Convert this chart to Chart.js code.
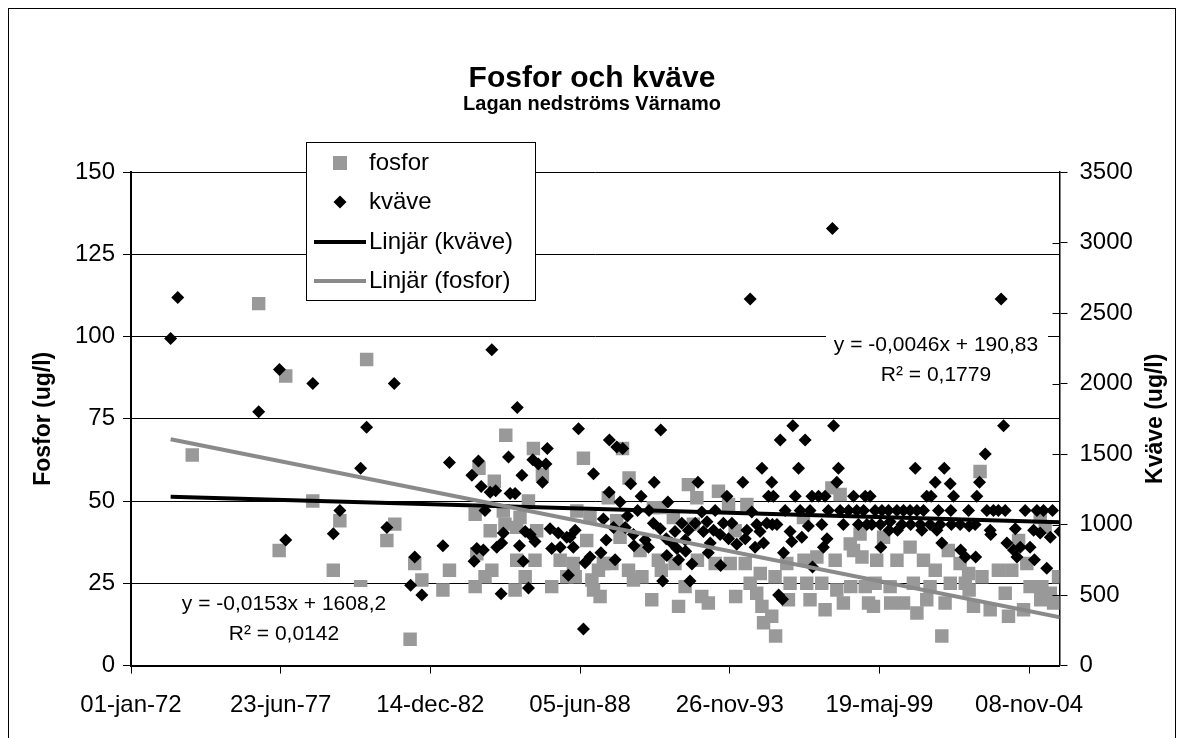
<!DOCTYPE html>
<html lang="sv">
<head>
<meta charset="UTF-8">
<title>Fosfor och kväve</title>
<script src="https://cdn.jsdelivr.net/npm/chart.js"></script>
<style>
  body { margin: 0; background: #fff; }
  #wrap { width: 1184px; height: 738px; position: relative; }
</style>
</head>
<body>
<div id="wrap"><canvas id="chart"></canvas></div>
<script>
// x axis: Excel date serials, a tick every 2000 days from 01-jan-72
var xTickLabels = ['01-jan-72', '23-jun-77', '14-dec-82', '05-jun-88', '26-nov-93', '19-maj-99', '08-nov-04'];
var xStart = 26299;
var xStep = 2000;
var xEnd = 38705;

// fosfor samples: date as decimal year, value in ug/l
var fosforYear = [
  1974.24, 1976.67, 1977.42, 1977.66, 1978.65, 1979.40, 1979.64, 1980.40, 1980.62, 1981.36, 1981.65, 1982.21, 1982.38, 1982.64, 1983.41, 1983.65,
  1984.59, 1984.59, 1984.65, 1984.73, 1984.95, 1985.14, 1985.20, 1985.29, 1985.62, 1985.68, 1985.71, 1986.05, 1986.11, 1986.11, 1986.23, 1986.42, 1986.54, 1986.72, 1986.78, 1986.84, 1987.05, 1987.39, 1987.70, 1987.94,
  1988.18, 1988.25, 1988.31, 1988.55, 1988.67, 1988.79, 1988.86, 1988.92, 1989.10, 1989.16, 1989.28, 1989.46, 1989.59, 1989.77, 1989.89, 1989.98, 1990.20, 1990.22, 1990.38, 1990.62, 1990.69, 1991.05, 1991.11, 1991.29, 1991.36, 1991.40,
  1991.84, 1991.90, 1992.03, 1992.27, 1992.39, 1992.57, 1992.70, 1992.72, 1992.88, 1993.12, 1993.37, 1993.49, 1993.86, 1993.92, 1994.10, 1994.12, 1994.47, 1994.53, 1994.65, 1994.89, 1995.02, 1995.08, 1995.14,
  1995.44, 1995.56, 1995.58, 1995.99, 1996.05, 1996.11, 1996.60, 1996.62, 1996.72, 1996.84, 1997.09, 1997.27, 1997.39, 1997.64, 1997.76, 1997.82, 1997.94, 1998.06, 1998.31, 1998.33, 1998.43, 1998.67, 1998.74, 1998.86, 1998.98,
  1999.16, 1999.22, 1999.28, 1999.53, 1999.77, 1999.79, 2000.02, 2000.26, 2000.50, 2000.62, 2000.75, 2000.99, 2001.11, 2001.23, 2001.42, 2001.66, 2001.78, 2001.90, 2001.97, 2002.33, 2002.52,
  2002.64, 2002.66, 2002.82, 2003.06, 2003.13, 2003.43, 2003.73, 2003.98, 2004.10, 2004.22, 2004.47, 2004.65, 2004.77, 2004.89, 2005.26, 2005.28, 2005.32, 2005.44, 2005.63, 2005.75, 2005.93
];
var fosforValue = [
  64, 110, 35, 88, 50, 29, 44, 24, 93, 38, 43, 8, 31, 26, 23, 29,
  46, 24, 34, 60, 27, 41, 29, 56, 47, 43, 70, 23, 42, 32, 45, 27, 50, 66, 32, 41, 58, 24, 32, 27,
  31, 27, 47, 63, 38, 45, 26, 23, 29, 21, 31, 51, 31, 44, 39, 66, 29, 57, 26, 35, 27, 20, 48, 32, 48, 29,
  45, 31, 18, 24, 55, 43, 51, 32, 21, 19, 31, 53, 49, 31, 41, 21, 31, 49, 25, 22, 28, 18, 13,
  15, 27, 9, 31, 20, 25, 45, 32, 25, 20, 33, 25, 17, 54, 32, 23, 52, 19, 37, 24, 35, 40, 33, 24, 19,
  18, 25, 32, 39, 24, 19, 32, 19, 36, 25, 16, 32, 20, 24, 29, 9, 19, 35, 25, 31, 25,
  28, 23, 18, 59, 27, 17, 29, 22, 15, 29, 38, 17, 31, 24, 45, 20, 24, 42, 22, 19, 27
];

// kväve samples: date as decimal year, value in ug/l
var kvaveYear = [
  1973.45, 1973.71, 1976.67, 1977.43, 1977.66, 1978.65, 1979.40, 1979.64, 1980.40, 1980.62, 1981.36, 1981.63, 1982.23, 1982.38, 1982.64, 1983.41, 1983.65,
  1984.47, 1984.55, 1984.65, 1984.71, 1984.81, 1984.89, 1984.95, 1985.14, 1985.20, 1985.34, 1985.38, 1985.54, 1985.56, 1985.62, 1985.81, 1985.87, 1986.05, 1986.13, 1986.21, 1986.30, 1986.35, 1986.42, 1986.54, 1986.60, 1986.70, 1986.78, 1986.90, 1987.05, 1987.18, 1987.23, 1987.33, 1987.39, 1987.63, 1987.70, 1987.94, 1988.00,
  1988.06, 1988.18, 1988.25, 1988.37, 1988.55, 1988.61, 1988.79, 1988.92, 1989.19, 1989.28, 1989.38, 1989.49, 1989.50, 1989.65, 1989.71, 1989.77, 1989.89, 1989.99, 1990.08, 1990.16, 1990.28, 1990.38, 1990.40, 1990.53, 1990.66, 1990.81, 1990.93, 1990.95, 1991.11, 1991.14, 1991.36, 1991.38, 1991.45, 1991.58, 1991.60, 1991.64,
  1991.78, 1991.90, 1991.97, 1992.03, 1992.15, 1992.27, 1992.29, 1992.39, 1992.45, 1992.52, 1992.64, 1992.74, 1992.88, 1992.94, 1993.07, 1993.12, 1993.19, 1993.31, 1993.37, 1993.55, 1993.57, 1993.67, 1993.80, 1993.86, 1993.98, 1994.16, 1994.38, 1994.47, 1994.53, 1994.65, 1994.71, 1994.83, 1994.89, 1995.01, 1995.08, 1995.14, 1995.26, 1995.32,
  1995.44, 1995.46, 1995.50, 1995.63, 1995.69, 1995.75, 1995.83, 1995.87, 1995.93, 1996.11, 1996.17, 1996.21, 1996.30, 1996.42, 1996.48, 1996.54, 1996.66, 1996.78, 1996.84, 1996.91, 1996.93, 1997.15, 1997.27, 1997.33, 1997.39, 1997.46, 1997.51, 1997.66, 1997.70, 1997.82, 1997.88, 1997.94, 1998.06, 1998.25, 1998.43, 1998.55, 1998.61, 1998.80, 1998.86, 1998.92,
  1999.04, 1999.10, 1999.22, 1999.41, 1999.43, 1999.47, 1999.71, 1999.73, 1999.77, 2000.02, 2000.04, 2000.20, 2000.26, 2000.50, 2000.52, 2000.69, 2000.75, 2000.87, 2000.93, 2000.99, 2001.11, 2001.23, 2001.27, 2001.42, 2001.48, 2001.54, 2001.60, 2001.66, 2001.75, 2001.97, 2001.99, 2002.01, 2002.09, 2002.33, 2002.35, 2002.52, 2002.64,
  2002.66, 2002.88, 2002.90, 2002.94, 2003.04, 2003.25, 2003.31, 2003.43, 2003.45, 2003.55, 2003.73, 2003.83, 2003.92, 2003.98, 2004.04, 2004.28, 2004.35, 2004.41, 2004.53, 2004.71, 2004.89, 2005.02, 2005.05, 2005.14, 2005.26, 2005.38, 2005.50, 2005.63, 2005.71, 2005.99
];
var kvaveValue = [
  2320, 2610, 1800, 2100, 890, 2000, 935, 1100, 1400, 1690, 980, 2000, 570, 770, 500, 850, 1440,
  1350, 740, 830, 1450, 1270, 820, 1100, 1230, 2240, 1240, 840, 510, 870, 940, 1480, 1220, 1220, 1830, 850, 1350, 740, 950, 550, 930, 1460, 880, 1430, 1300, 1430, 1540, 970, 830, 940, 840, 910, 640,
  910, 840, 960, 1680, 260, 730, 770, 1360, 800, 1040, 890, 1230, 1600, 980, 750, 1550, 1160, 1540, 980, 1060, 1290, 930, 850, 1100, 1200, 890, 840, 1100, 1010, 1300, 970, 1670, 600, 900, 780, 1160,
  870, 950, 830, 750, 1010, 890, 810, 960, 600, 720, 1010, 1300, 1090, 950, 1020, 800, 870, 960, 1100, 930, 710, 1010, 1200, 900, 1010, 860, 1300, 900, 960, 2600, 1090, 840, 1000, 950, 1400, 870, 1010, 1200,
  1300, 1000, 1200, 1000, 500, 1600, 470, 800, 1100, 950, 880, 1700, 1200, 1400, 1100, 910, 1600, 990, 1100, 1200, 700, 1200, 1000, 840, 1200, 900, 1100, 3100, 1700, 1300, 1400, 1100, 1000, 1100, 1200, 1100, 1000, 1100, 1200, 1000,
  1200, 1000, 1100, 1000, 840, 1100, 1100, 960, 1020, 1100, 960, 1000, 1100, 1100, 1000, 1400, 1100, 1000, 960, 1100, 1200, 1000, 1200, 1300, 960, 1100, 1000, 870, 1400, 1290, 1100, 1000, 1200, 1000, 820, 770, 1100,
  990, 1000, 770, 1200, 1300, 1500, 1100, 960, 930, 1100, 1100, 2600, 1700, 1100, 870, 820, 970, 770, 840, 1100, 840, 960, 750, 1100, 940, 1100, 690, 910, 1100, 950
];

// linear trendlines as shown in the chart: [slope, intercept], x = date serial
var kvaveTrend = [-0.0153, 1608.2];
var fosforTrend = [-0.00455, 190.83];
var kvaveTrendText = ['y = -0,0153x + 1608,2', 'R² = 0,0142'];
var fosforTrendText = ['y = -0,0046x + 190,83', 'R² = 0,1779'];

var fontFamily = '"Liberation Sans", Arial, Helvetica, sans-serif';
Chart.defaults.font.family = fontFamily;
Chart.defaults.color = '#000';

function toSerial(year) {
    return xStart + (year - 1972) * 365.25;
}

function toPoints(years, values) {
    return years.map(function (yr, i) {
        return { x: toSerial(yr), y: values[i] };
    });
}

var allYears = fosforYear.concat(kvaveYear);
var trendFrom = toSerial(Math.min.apply(null, allYears));
var trendTo = toSerial(Math.max.apply(null, allYears));

function trendPoints(t) {
    return [
        { x: trendFrom, y: t[0] * trendFrom + t[1] },
        { x: trendTo, y: t[0] * trendTo + t[1] }
    ];
}

function drawEquation(ctx, lines, cx, cy, box) {
    ctx.fillStyle = '#fff';
    ctx.fillRect(box[0], box[1], box[2], box[3]);
    ctx.fillStyle = '#000';
    ctx.font = '21px ' + fontFamily;
    ctx.textAlign = 'center';
    ctx.textBaseline = 'middle';
    ctx.fillText(lines[0], cx, cy);
    ctx.fillText(lines[1], cx, cy + 30);
}

// border, axis titles, trendline labels and the legend box
var overlayPlugin = {
    id: 'overlay',
    afterDraw: function (chart) {
        var ctx = chart.ctx;
        var area = chart.chartArea;
        var ds = chart.data.datasets;
        var y2 = chart.scales.y2;
        ctx.save();

        ctx.strokeStyle = '#000';
        ctx.lineWidth = 1;
        ctx.strokeRect(8.5, 8.5, 1167, 760);

        // right axis ticks cross the axis line
        ctx.beginPath();
        y2.ticks.forEach(function (t) {
            var py = Math.round(y2.getPixelForValue(t.value)) + 0.5;
            ctx.moveTo(area.right - 7, py);
            ctx.lineTo(area.right, py);
        });
        ctx.stroke();

        ctx.font = 'bold 23px ' + fontFamily;
        ctx.fillStyle = '#000';
        ctx.textAlign = 'center';
        ctx.textBaseline = 'middle';
        var midY = (area.top + area.bottom) / 2;
        [['Fosfor (ug/l)', 44], ['Kväve (ug/l)', 1156]].forEach(function (t) {
            ctx.save();
            ctx.translate(t[1], midY);
            ctx.rotate(-Math.PI / 2);
            ctx.fillText(t[0], 0, 0);
            ctx.restore();
        });

        drawEquation(ctx, kvaveTrendText, 284, 604, [176, 587, 216, 62]);
        drawEquation(ctx, fosforTrendText, 936, 345, [826, 329, 222, 62]);

        // legend
        var lx = 306, ly = 142, lw = 229, lh = 158;
        ctx.fillStyle = '#fff';
        ctx.fillRect(lx, ly, lw, lh);
        ctx.strokeStyle = '#000';
        ctx.lineWidth = 1;
        ctx.strokeRect(lx + 0.5, ly + 0.5, lw, lh);

        var rows = [163, 202, 242, 281];
        ctx.font = '24px ' + fontFamily;
        ctx.textAlign = 'left';
        ctx.textBaseline = 'middle';
        ds.forEach(function (d, i) {
            var y = rows[i];
            if (d.pointStyle === 'rect') {
                ctx.fillStyle = d.backgroundColor;
                ctx.fillRect(333, y - 7, 14, 14);
            } else if (d.pointStyle === 'rectRot') {
                ctx.fillStyle = d.backgroundColor;
                ctx.beginPath();
                ctx.moveTo(340, y - 6.5);
                ctx.lineTo(346.5, y);
                ctx.lineTo(340, y + 6.5);
                ctx.lineTo(333.5, y);
                ctx.closePath();
                ctx.fill();
            } else {
                ctx.strokeStyle = d.borderColor;
                ctx.lineWidth = d.borderWidth;
                ctx.beginPath();
                ctx.moveTo(314, y);
                ctx.lineTo(366, y);
                ctx.stroke();
            }
            ctx.fillStyle = '#000';
            ctx.fillText(d.label, 369, y);
        });

        ctx.restore();
    }
};

var ctx = document.getElementById('chart').getContext('2d');
var chart = new Chart(ctx, {
    type: 'scatter',
    data: {
        datasets: [{
            label: 'fosfor',
            data: toPoints(fosforYear, fosforValue),
            pointStyle: 'rect',
            pointRadius: 9.5,
            backgroundColor: '#999999',
            borderWidth: 0,
            yAxisID: 'y',
            order: 4
        }, {
            label: 'kväve',
            data: toPoints(kvaveYear, kvaveValue),
            pointStyle: 'rectRot',
            pointRadius: 6.5,
            backgroundColor: '#000000',
            borderWidth: 0,
            yAxisID: 'y2',
            order: 3
        }, {
            label: 'Linjär (kväve)',
            data: trendPoints(kvaveTrend),
            showLine: true,
            borderColor: '#000000',
            borderWidth: 4,
            pointRadius: 0,
            yAxisID: 'y2',
            order: 2
        }, {
            label: 'Linjär (fosfor)',
            data: trendPoints(fosforTrend),
            showLine: true,
            borderColor: '#8a8a8a',
            borderWidth: 4,
            pointRadius: 0,
            yAxisID: 'y',
            order: 1
        }]
    },
    options: {
        responsive: true,
        maintainAspectRatio: false,
        animation: false,
        events: [],
        layout: { padding: { top: 64, left: 0, right: 0, bottom: 0 } },
        plugins: {
            legend: { display: false },
            tooltip: { enabled: false },
            title: {
                display: true,
                text: 'Fosfor och kväve',
                color: '#000',
                font: { size: 30, weight: 'bold', lineHeight: 1 },
                padding: { top: 0, bottom: 0 }
            },
            subtitle: {
                display: true,
                text: 'Lagan nedströms Värnamo',
                color: '#000',
                font: { size: 20, weight: 'bold', lineHeight: 1 },
                padding: { top: 0, bottom: 58 }
            }
        },
        scales: {
            x: {
                type: 'linear',
                position: 'bottom',
                min: xStart,
                max: xEnd,
                afterBuildTicks: function (s) {
                    s.ticks = xTickLabels.map(function (l, i) {
                        return { value: xStart + i * xStep };
                    });
                },
                afterFit: function (s) { s.height = 72.4; },
                ticks: {
                    autoSkip: false,
                    maxRotation: 0,
                    padding: 17,
                    font: { size: 24 },
                    color: '#000',
                    callback: function (v, i) { return xTickLabels[i]; }
                },
                grid: { drawOnChartArea: false, tickLength: 8, color: '#000', lineWidth: 1 },
                border: { color: '#000', width: 2 }
            },
            y: {
                type: 'linear',
                position: 'left',
                min: 0,
                max: 150,
                afterFit: function (s) { s.width = 131; },
                ticks: {
                    stepSize: 25, padding: 8, font: { size: 24 }, color: '#000',
                    callback: function (v) { return String(v); }
                },
                grid: { color: '#000', lineWidth: 1, tickLength: 8 },
                border: { color: '#000', width: 2 }
            },
            y2: {
                type: 'linear',
                position: 'right',
                min: 0,
                max: 3500,
                afterFit: function (s) { s.width = 124.5; },
                ticks: {
                    stepSize: 500, padding: 12, font: { size: 24 }, color: '#000',
                    callback: function (v) { return String(v); }
                },
                grid: { drawOnChartArea: false, color: '#000', lineWidth: 1, tickLength: 8 },
                border: { color: '#000', width: 1.5 }
            }
        }
    },
    plugins: [overlayPlugin]
});
</script>
</body>
</html>
